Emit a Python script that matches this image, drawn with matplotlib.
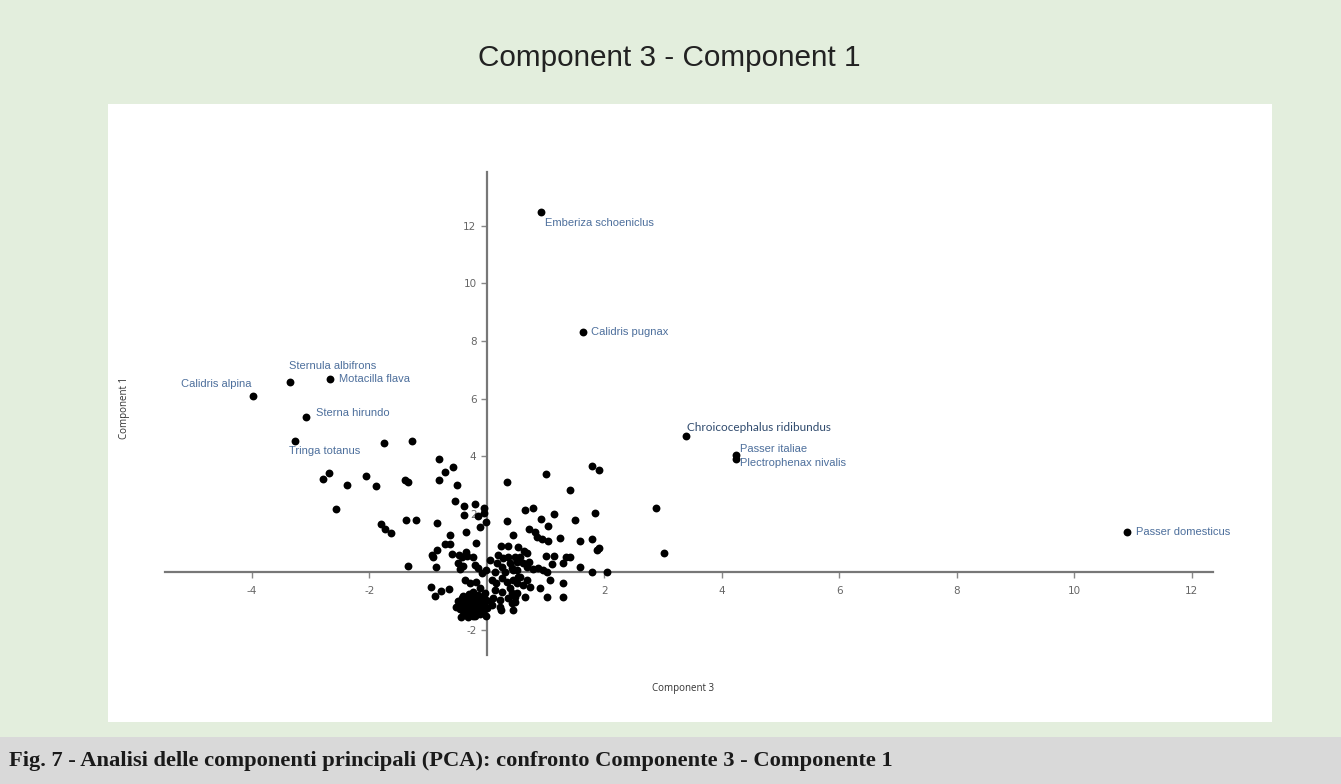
import matplotlib
matplotlib.use("Agg")
import matplotlib.pyplot as plt
from matplotlib.patches import Rectangle

plt.rcParams["axes.unicode_minus"] = False

# Specie con etichetta (Component 3, Component 1)
species = ["Emberiza schoeniclus", "Calidris pugnax", "Sternula albifrons", "Motacilla flava",
           "Calidris alpina", "Sterna hirundo", "Tringa totanus", "Chroicocephalus ridibundus",
           "Passer italiae", "Plectrophenax nivalis", "Passer domesticus"]
sp_c3 = [0.92, 1.63, -3.35, -2.67, -3.98, -3.08, -3.27, 3.39, 4.24, 4.24, 10.89]
sp_c1 = [12.47, 8.32, 6.58, 6.69, 6.10, 5.37, 4.54, 4.71, 4.05, 3.92, 1.39]

# Altre specie senza etichetta
pts_c3 = [-1.75, -1.28, -2.69, -2.79, -2.39, -2.05, -1.89, -1.40, -1.34, -2.57,
          -1.80, -1.74, -1.63, -1.38, -1.21, -1.35, -0.82, -0.71, -0.57, -0.81,
          -0.51, 0.35, 1.01, 1.79, 1.91, 1.42, -0.55, -0.39, -0.20, -0.05,
          -0.39, -0.16, -0.02, -0.11, 0.65, 0.78, 1.15, 0.92, 0.35, 1.50,
          1.84, 2.88, 3.01, -0.85, -0.35, -0.62, 1.04, 0.72, 0.82, 0.86,
          0.94, 1.04, 1.24, 0.45, 1.58, 1.79, 1.91, 1.88, -0.85, -0.71,
          -0.62, -0.93, -0.92, -0.86, -0.19, 0.24, 0.36, 0.53, 0.63, 0.68,
          1.58, 1.79, 2.04, 1.00, 1.15, 1.29, 1.35, 1.41, -0.96, -0.88,
          -0.78, -0.65, 1.29, 1.29, 1.02, 0.90, 0.24, -0.05,
          -0.59, -0.47, -0.43, -0.35, -0.34, -0.23, -0.49, -0.40, -0.46, -0.20,
          -0.15, 0.05, -0.01, -0.09, 0.19, 0.28, 0.36, 0.18, 0.25, 0.39,
          0.51, 0.14, 0.31, 0.45, -0.37, -0.29, -0.18, -0.23, -0.12, -0.03,
          0.08, 0.16, 0.25, 0.34, 0.45, 0.53, 0.14, 0.25, 0.39, 0.51,
          0.22, 0.36, 0.48, 0.48, 0.56, 0.72, 0.62, 1.10, 0.42, 0.51,
          0.68, 0.79, 0.87, 0.96, 1.02, 1.07, 0.56, 0.68, 0.62, 0.51,
          0.73, 0.42, 0.48, 0.42, 0.45, 0.65, 0.22,
          -0.45, -0.42, -0.40, -0.38, -0.36, -0.34, -0.32, -0.30, -0.29, -0.27,
          -0.25, -0.24, -0.22, -0.20, -0.18, -0.16, -0.14, -0.12, -0.10, -0.08,
          -0.06, -0.48, -0.46, -0.43, -0.35, -0.28, -0.20, -0.12, -0.05, -0.03,
          -0.40, -0.30, -0.15, -0.38, -0.26, 0.00, 0.05, 0.08, 0.10, -0.50,
          -0.52, -0.44, -0.33, -0.24, -0.17, -0.09, -0.02]
pts_c1 = [4.48, 4.55, 3.44, 3.21, 3.00, 3.34, 2.97, 3.18, 3.13, 2.18,
          1.65, 1.50, 1.36, 1.81, 1.81, 0.22, 3.91, 3.47, 3.65, 3.19,
          3.01, 3.13, 3.40, 3.67, 3.52, 2.85, 2.46, 2.30, 2.35, 2.22,
          1.96, 1.93, 1.74, 1.57, 2.15, 2.22, 2.02, 1.84, 1.76, 1.80,
          2.04, 2.21, 0.66, 1.71, 1.39, 1.28, 1.59, 1.50, 1.40, 1.22,
          1.14, 1.08, 1.19, 1.27, 1.08, 1.13, 0.84, 0.76, 0.75, 0.96,
          0.96, 0.59, 0.53, 0.18, 0.99, 0.89, 0.90, 0.88, 0.74, 0.65,
          0.17, -0.02, 0.01, 0.55, 0.55, 0.32, 0.53, 0.53, -0.51, -0.82,
          -0.65, -0.60, -0.39, -0.86, -0.86, -0.56, -1.33, 2.05,
          0.62, 0.59, 0.53, 0.70, 0.55, 0.53, 0.32, 0.21, 0.09, 0.24,
          0.13, 0.42, 0.07, -0.05, 0.59, 0.47, 0.53, 0.30, 0.18, 0.30,
          0.36, 0.01, 0.01, 0.07, -0.28, -0.39, -0.34, -0.68, -0.56, -0.74,
          -0.28, -0.39, -0.22, -0.34, -0.28, -0.16, -0.62, -0.68, -0.56, -0.74,
          -0.97, -0.91, -1.03, 0.53, 0.53, 0.36, 0.30, 0.27, 0.13, 0.07,
          0.18, 0.09, 0.13, 0.07, -0.02, -0.28, -0.16, -0.28, -0.45, -0.39,
          -0.51, -0.74, -0.86, -1.08, -1.32, -0.86, -1.20,
          -1.05, -1.20, -1.35, -0.95, -1.10, -1.28, -1.42, -1.00, -1.18, -1.32,
          -0.90, -1.08, -1.25, -1.40, -0.98, -1.15, -1.30, -0.88, -1.05, -1.22,
          -1.38, -1.15, -1.30, -0.90, -1.48, -1.50, -1.52, -1.45, -1.10, -0.95,
          -0.82, -0.78, -0.80, -1.40, -1.42, -1.25, -1.02, -1.15, -0.90, -1.00,
          -1.22, -1.55, -1.56, -1.54, -1.25, -1.32, -1.52]

x_ticks = [-4, -2, 2, 4, 6, 8, 10, 12]
y_ticks = [-2, 2, 4, 6, 8, 10, 12]

# offset delle etichette (punti)
offsets = [(3, -8), (6, 0), (-1, 11.5), (6.5, 0), (-1.5, 8.5), (7, 3), (-4, -7),
           (1, 6), (3, 4), (3, -3), (6.5, 0)]
ha_list = ["left", "left", "left", "left", "right", "left", "left", "left", "left", "left", "left"]

fig = plt.figure(figsize=(13.41, 7.84), dpi=100)
fig.patch.set_facecolor("#e3eedd")
fig.patches.append(Rectangle((0, 0), 1, 47 / 784, transform=fig.transFigure,
                             facecolor="#d9d9d9", edgecolor="none", zorder=-5))
fig.patches.append(Rectangle((108 / 1341, 1 - 722 / 784), (1272 - 108) / 1341, (722 - 104) / 784,
                             transform=fig.transFigure, facecolor="white", edgecolor="none", zorder=-5))

ax = fig.add_axes([165 / 1341, 1 - 655 / 784, 1048 / 1341, 483 / 784])
ax.set_zorder(2)
ax.set_facecolor("none")
ax.set_xlim(-5.48, 12.36)
ax.set_ylim(-2.88, 13.86)

for side in ["top", "right"]:
    ax.spines[side].set_visible(False)
ax.spines["left"].set_position(("data", 0))
ax.spines["bottom"].set_position(("data", 0))
for side in ["left", "bottom"]:
    ax.spines[side].set_color("#777777")
    ax.spines[side].set_linewidth(1.6)

ax.set_xticks(x_ticks)
ax.set_yticks(y_ticks)
ax.tick_params(axis="both", colors="#888888", labelcolor="#666666", labelsize=7.5,
               length=4, width=1)
ax.tick_params(axis="x", pad=6)

ax.scatter(pts_c3, pts_c1, s=32, color="black", zorder=3, linewidths=0)
ax.scatter(sp_c3, sp_c1, s=32, color="black", zorder=3, linewidths=0)

for i, name in enumerate(species):
    if name == "Chroicocephalus ridibundus":
        col, fam, fs = "#2f4a6d", "Lato", 8.5
    else:
        col, fam, fs = "#4d6f9c", "Liberation Sans", 8
    ax.annotate(name, (sp_c3[i], sp_c1[i]), xytext=offsets[i], textcoords="offset points",
                ha=ha_list[i], va="center", color=col, fontsize=fs, family=fam)

fig.text(683 / 1341, 1 - 688 / 784, "Component 3", ha="center", va="center",
         fontsize=7, color="#333333", family="Open Sans")
fig.text(125 / 1341, 1 - 408 / 784, "Component 1", ha="center", va="center",
         rotation=90, fontsize=7, color="#333333", family="Open Sans")

fig.text(669 / 1341, 1 - 58 / 784, "Component 3 - Component 1", ha="center", va="center",
         fontsize=21.4, color="#222222", family="Liberation Sans")

fig.text(9 / 1341, 1 - 761 / 784,
         "Fig. 7 - Analisi delle componenti principali (PCA): confronto Componente 3 - Componente 1",
         ha="left", va="center", fontsize=16.2, fontweight="bold", color="#1a1a1a",
         family="Liberation Serif")

fig.savefig("out.png", dpi=100, facecolor=fig.get_facecolor())
